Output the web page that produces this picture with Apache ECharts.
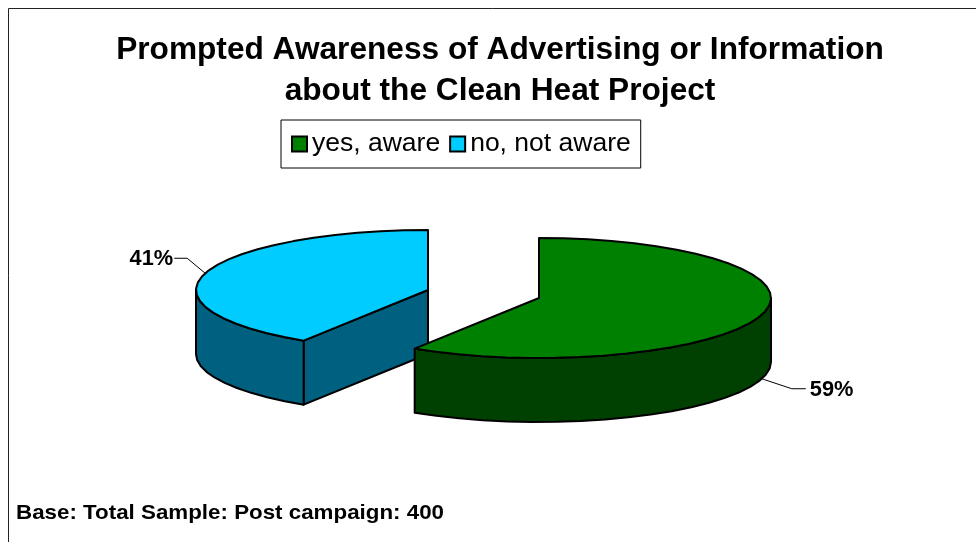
<!DOCTYPE html>
<html>
<head>
<meta charset="utf-8">
<style>html,body{margin:0;padding:0;background:#fff}#c{width:976px;height:542px}</style>
<script src="https://cdn.jsdelivr.net/npm/echarts@6/dist/echarts.min.js"></script>
</head>
<body>
<div id="c"></div>
<script>
var titleLines = ['Prompted Awareness of Advertising or Information', 'about the Clean Heat Project'];
var categories = ['yes, aware', 'no, not aware'];
var shares = [59, 41];
var baseNote = 'Base: Total Sample: Post campaign: 400';

var FONT = '"Liberation Sans", Arial, sans-serif';
var total = shares.reduce(function (a, b) { return a + b; }, 0);
var RX = 232, RY = 60, DEPTH = 64, STEP = 6;
var looks = [
  { cx: 539, cy: 298, top: '#008000', side: '#004000', elbow: [30, 10], tail: 14 },
  { cx: 428, cy: 290, top: '#00CCFF', side: '#006080', elbow: [-18, -15], tail: -13 }
];

function rim(l, deg, drop) {
  var a = deg * Math.PI / 180;
  return [l.cx + RX * Math.sin(a), l.cy - RY * Math.cos(a) + (drop || 0)];
}
function arc(l, from, to, drop) {
  var pts = [], n = Math.max(1, Math.round((to - from) / STEP));
  for (var i = 0; i <= n; i++) pts.push(rim(l, from + (to - from) * i / n, drop));
  return pts;
}
function face(points, fill) {
  return { type: 'polygon', shape: { points: points },
    style: { fill: fill, stroke: '#000', lineWidth: 2, lineJoin: 'round' }, silent: true };
}
function slice(index) {
  var before = 0;
  for (var i = 0; i < index; i++) before += shares[i];
  var from = before / total * 360, to = (before + shares[index]) / total * 360;
  var l = looks[index], kids = [];
  var center = [l.cx, l.cy];
  if (from > 90 && from < 270) {
    var p = rim(l, from);
    kids.push(face([p, center, [l.cx, l.cy + DEPTH], [p[0], p[1] + DEPTH]], l.side));
  }
  var a = Math.max(from, 90), b = Math.min(to, 270);
  if (b > a) {
    kids.push(face(arc(l, a, b, 0).concat(arc(l, a, b, DEPTH).reverse()), l.side));
  }
  kids.push(face([center].concat(arc(l, from, to, 0)), l.top));
  var mid = (from + to) / 2;
  var nearSide = mid > 90 && mid < 270;
  var s = rim(l, mid, nearSide ? DEPTH : 0);
  var e = [s[0] + l.elbow[0], s[1] + l.elbow[1]];
  var t = [e[0] + l.tail, e[1]];
  kids.push({ type: 'polyline', shape: { points: [s, e, t] },
    style: { fill: 'none', stroke: '#000', lineWidth: 1 }, silent: true });
  kids.push({ type: 'text', silent: true, style: {
    text: Math.round(shares[index] / total * 100) + '%',
    x: t[0] + (l.tail > 0 ? 4 : -1), y: t[1] + 1,
    align: l.tail > 0 ? 'left' : 'right', verticalAlign: 'middle',
    textAlign: l.tail > 0 ? 'left' : 'right', textVerticalAlign: 'middle',
    font: 'bold 21.8px ' + FONT, fill: '#000' } });
  return { type: 'group', children: kids };
}
function makeSeries(i) {
  return {
    type: 'custom', name: categories[i], coordinateSystem: 'none',
    itemStyle: { color: looks[i].top, borderColor: '#000', borderWidth: 2 },
    data: [shares[i]],
    renderItem: function () { return slice(i); }
  };
}

var chart = echarts.init(document.getElementById('c'), null, { renderer: 'canvas' });
chart.setOption({
  animation: false,
  backgroundColor: '#fff',
  title: {
    text: titleLines.join('\n'), left: 500, top: 30, textAlign: 'center', padding: 0,
    textStyle: { fontFamily: FONT, fontWeight: 'bold', fontSize: 31.65, lineHeight: 41, color: '#000' }
  },
  legend: {
    data: categories, left: 281, top: 120, orient: 'horizontal',
    backgroundColor: '#fff', borderColor: '#000', borderWidth: 1,
    padding: [10, 10, 10, 10], itemGap: 9, itemWidth: 15, itemHeight: 15, borderRadius: 0,
    icon: 'rect', selectedMode: false,
    textStyle: { fontFamily: FONT, fontSize: 26.5, lineHeight: 28, color: '#000' }
  },
  series: [makeSeries(1), makeSeries(0)],
  graphic: [
    { type: 'rect', silent: true, z: -1, shape: { x: 8.5, y: 8.5, width: 1200, height: 800 },
      style: { fill: 'none', stroke: '#222', lineWidth: 1 } },
    { type: 'text', silent: true, x: 16, y: 513, scaleX: 1.09, style: { text: baseNote, font: 'bold 20.5px ' + FONT, fill: '#000',
      verticalAlign: 'middle', textVerticalAlign: 'middle' } }
  ]
});
</script>
</body>
</html>
